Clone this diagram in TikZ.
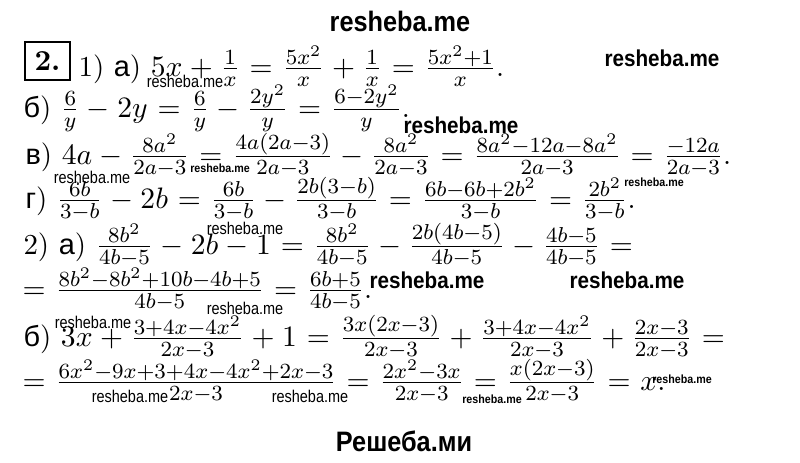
\documentclass[tikz,border=0pt]{standalone}
\usepackage{amsmath}
\usepackage{fontspec}
\newfontfamily\cyr{Liberation Sans}
\newfontfamily\wmbold[FakeStretch=0.9]{Liberation Sans Bold}
\newfontfamily\wmthin[FakeStretch=0.85]{Liberation Sans}
\DeclareMathSizes{10.7}{10.7}{7.8}{5.6}
\thickmuskip=6mu plus 5mu
\medmuskip=4.5mu plus 2mu minus 4mu
\newcommand{\lbl}[1]{{\cyr #1})}

\begin{document}
\begin{tikzpicture}[x=0.37pt, y=-0.37pt,
    row/.style={anchor=base west, inner sep=0pt, font=\fontsize{10.7}{12}\selectfont},
    wmbig/.style={inner sep=0pt, font=\wmbold\fontsize{10.4}{12}\selectfont},
    wmmid/.style={inner sep=0pt, font=\wmbold\fontsize{8.5}{10}\selectfont},
    wmthin/.style={inner sep=0pt, font=\wmthin\fontsize{6.3}{7}\selectfont},
    wmtiny/.style={inner sep=0pt, font=\wmbold\fontsize{4.4}{5}\selectfont}]
  \useasboundingbox[fill=white] (0,0) rectangle (800,462);

  % exercise number
  \node[draw, line width=0.45pt, minimum width=16.6pt, minimum height=14pt,
        inner sep=0pt, font=\fontsize{10.7}{12}\selectfont\bfseries] (num) at (47.5,61) {2.};

  % 1)
  \node[row] (r1) at (78,76) {1) \lbl{а} $5x+\frac{1}{x}=\frac{5x^2}{x}+\frac{1}{x}=\frac{5x^2+1}{x}$.};
  \node[row] (r2) at (23,117) {\lbl{б} $\frac{6}{y}-2y=\frac{6}{y}-\frac{2y^2}{y}=\frac{6-2y^2}{y}$.};
  \node[row] (r3) at (25,164) {\lbl{в} $4a-\frac{8a^2}{2a-3}=\frac{4a(2a-3)}{2a-3}-\frac{8a^2}{2a-3}=\frac{8a^2-12a-8a^2}{2a-3}=\frac{-12a}{2a-3}$.};
  \node[row] (r4) at (25,208) {\lbl{г} $\frac{6b}{3-b}-2b=\frac{6b}{3-b}-\frac{2b(3-b)}{3-b}=\frac{6b-6b+2b^2}{3-b}=\frac{2b^2}{3-b}$.};

  % 2)
  \node[row] (r5) at (23,254) {2) \lbl{а} $\frac{8b^2}{4b-5}-2b-1=\frac{8b^2}{4b-5}-\frac{2b(4b-5)}{4b-5}-\frac{4b-5}{4b-5}=$};
  \node[row] (r6) at (22,298) {$=\frac{8b^2-8b^2+10b-4b+5}{4b-5}=\frac{6b+5}{4b-5}$.};
  \node[row] (r7) at (23,346) {\lbl{б} $3x+\frac{3+4x-4x^2}{2x-3}+1=\frac{3x(2x-3)}{2x-3}+\frac{3+4x-4x^2}{2x-3}+\frac{2x-3}{2x-3}=$};
  \node[row] (r8) at (22,390) {$=\frac{6x^2-9x+3+4x-4x^2+2x-3}{2x-3}=\frac{2x^2-3x}{2x-3}=\frac{x(2x-3)}{2x-3}=x$.};

  % watermarks
  \node[wmbig] (wtop) at (400,21) {resheba.me};
  \node[wmbig] (wbot) at (404,441) {Решеба.ми};
  \node[wmmid] (w1) at (662,58) {resheba.me};
  \node[wmmid] (w2) at (461,125) {resheba.me};
  \node[wmmid] (w3) at (427,280) {resheba.me};
  \node[wmmid] (w4) at (627,280) {resheba.me};
  \node[wmthin] (s1) at (185,81) {resheba.me};
  \node[wmthin] (s2) at (92,177) {resheba.me};
  \node[wmthin] (s3) at (245,228) {resheba.me};
  \node[wmthin] (s4) at (245,308) {resheba.me};
  \node[wmthin] (s5) at (93,322) {resheba.me};
  \node[wmthin] (s6) at (130,396) {resheba.me};
  \node[wmthin] (s7) at (310,396) {resheba.me};
  \node[wmtiny] (t1) at (220,168) {resheba.me};
  \node[wmtiny] (t2) at (654,182) {resheba.me};
  \node[wmtiny] (t3) at (492,399) {resheba.me};
  \node[wmtiny] (t4) at (682,379) {resheba.me};
\end{tikzpicture}
\end{document}
